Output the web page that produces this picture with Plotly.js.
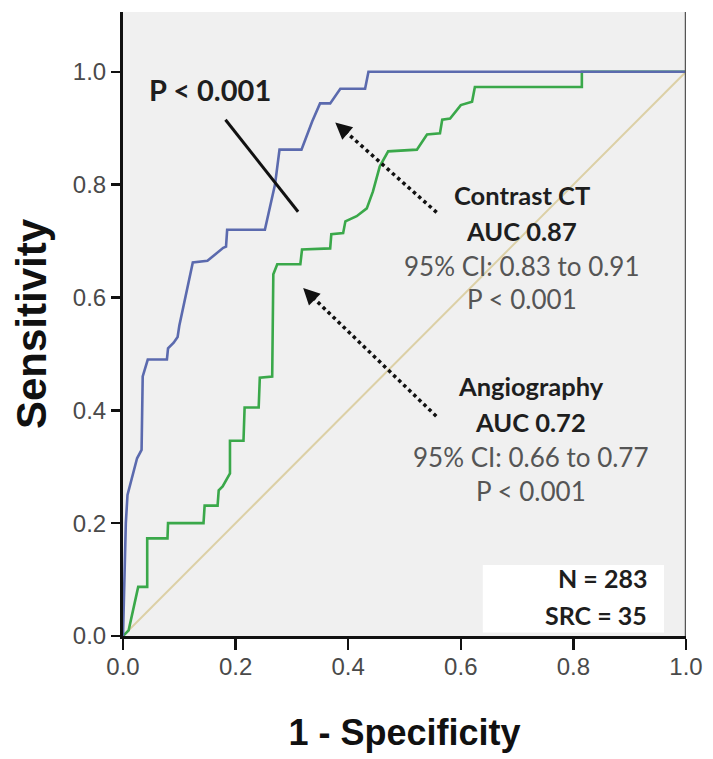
<!DOCTYPE html>
<html>
<head>
<meta charset="utf-8">
<script src="https://cdn.plot.ly/plotly-3.0.1.min.js"></script>
<style>html,body{margin:0;padding:0;background:#fff;}#chart{width:713px;height:759px;}</style>
</head>
<body>
<div id="chart"></div>
<script>
// Contrast CT ROC curve (1 - specificity, sensitivity)
const ctX = [0, 0.002, 0.005, 0.008, 0.013, 0.020, 0.025, 0.033, 0.035, 0.044, 0.078, 0.080, 0.090, 0.097, 0.100, 0.124, 0.150, 0.178, 0.183, 0.185, 0.252, 0.270, 0.278, 0.317, 0.336, 0.350, 0.368, 0.386, 0.430, 0.436, 1.0];
const ctY = [0, 0.100, 0.200, 0.250, 0.270, 0.300, 0.315, 0.330, 0.460, 0.490, 0.490, 0.510, 0.520, 0.530, 0.550, 0.662, 0.665, 0.688, 0.690, 0.720, 0.720, 0.800, 0.862, 0.862, 0.912, 0.944, 0.944, 0.970, 0.970, 1.0, 1.0];
// Angiography ROC curve
const angX = [0, 0.010, 0.027, 0.043, 0.043, 0.079, 0.080, 0.143, 0.145, 0.168, 0.170, 0.177, 0.190, 0.190, 0.214, 0.216, 0.241, 0.243, 0.265, 0.266, 0.267, 0.274, 0.315, 0.318, 0.368, 0.370, 0.391, 0.395, 0.415, 0.433, 0.444, 0.456, 0.471, 0.522, 0.540, 0.563, 0.567, 0.581, 0.600, 0.620, 0.625, 0.815, 0.815, 1.0];
const angY = [0, 0.010, 0.087, 0.087, 0.173, 0.173, 0.200, 0.200, 0.231, 0.231, 0.258, 0.265, 0.288, 0.346, 0.346, 0.405, 0.405, 0.458, 0.460, 0.520, 0.641, 0.659, 0.659, 0.685, 0.687, 0.712, 0.714, 0.735, 0.744, 0.758, 0.788, 0.832, 0.859, 0.862, 0.889, 0.891, 0.915, 0.917, 0.941, 0.947, 0.973, 0.973, 1.0, 1.0];
// Reference line
const refX = [0, 1];
const refY = [0, 1];
const tickVals = [0, 0.2, 0.4, 0.6, 0.8, 1.0];
const tickText = ["0.0", "0.2", "0.4", "0.6", "0.8", "1.0"];
const ctLabel = ["Contrast CT", "AUC 0.87", "95% CI: 0.83 to 0.91", "P < 0.001"];
const angLabel = ["Angiography", "AUC 0.72", "95% CI: 0.66 to 0.77", "P < 0.001"];
const sampleLabel = ["N = 283", "SRC = 35"];
const pLabel = "P < 0.001";

const YTOP = 1.106;
const annFont = "Lato, 'Open Sans', sans-serif";

const traces = [
  {x: refX, y: refY, mode: 'lines', line: {color: '#dcd0a6', width: 2}, hoverinfo: 'skip', showlegend: false},
  {x: angX, y: angY, mode: 'lines', line: {color: '#3aa84a', width: 2.6}, name: 'Angiography', showlegend: false},
  {x: ctX, y: ctY, mode: 'lines', line: {color: '#5b6aae', width: 2.6}, name: 'Contrast CT', showlegend: false}
];

function block(lines, cx, ys) {
  return lines.map((t, i) => ({
    text: t, x: cx, y: ys[i], xref: 'x', yref: 'y', showarrow: false,
    xanchor: 'center', yanchor: 'middle',
    font: {family: annFont, size: i < 2 ? 25.5 : 26, color: i < 2 ? '#1e1e1e' : '#555555', weight: i < 2 ? 'bold' : 'normal'}
  }));
}

const annotations = [].concat(
  block(ctLabel, 0.708, [0.782, 0.718, 0.655, 0.597]),
  block(angLabel, 0.724, [0.443, 0.380, 0.317, 0.257]),
  [
    {text: pLabel, x: 0.155, y: 0.968, xref: 'x', yref: 'y', showarrow: false, xanchor: 'center', yanchor: 'middle',
     font: {family: annFont, size: 29, color: '#1e1e1e', weight: 'bold'}},
    {text: sampleLabel[0], x: 0.935, y: 0.103, xref: 'x', yref: 'y', showarrow: false, xanchor: 'right', yanchor: 'middle',
     font: {family: annFont, size: 25, color: '#1e1e1e', weight: 'bold'}},
    {text: sampleLabel[1], x: 0.935, y: 0.037, xref: 'x', yref: 'y', showarrow: false, xanchor: 'right', yanchor: 'middle',
     font: {family: annFont, size: 25, color: '#1e1e1e', weight: 'bold'}},
    // arrowheads
    {text: '', x: 0.377, y: 0.910, ax: 0.400, ay: 0.890, xref: 'x', yref: 'y', axref: 'x', ayref: 'y',
     showarrow: true, arrowhead: 2, arrowsize: 1.1, arrowwidth: 3, arrowcolor: '#111'},
    {text: '', x: 0.320, y: 0.617, ax: 0.343, ay: 0.594, xref: 'x', yref: 'y', axref: 'x', ayref: 'y',
     showarrow: true, arrowhead: 2, arrowsize: 1.1, arrowwidth: 3, arrowcolor: '#111'}
  ]
);

const shapes = [
  {type: 'rect', xref: 'x', yref: 'y', x0: 0.639, x1: 0.961, y0: 0.006, y1: 0.126, fillcolor: '#ffffff', line: {width: 0}, layer: 'below'},
  {type: 'line', xref: 'x', yref: 'y', x0: 1, x1: 1, y0: 0, y1: YTOP, line: {color: '#555555', width: 2.5}},
  {type: 'line', xref: 'x', yref: 'y', x0: 0.182, y0: 0.915, x1: 0.311, y1: 0.752, line: {color: '#111111', width: 3}},
  {type: 'line', xref: 'x', yref: 'y', x0: 0.385, y0: 0.903, x1: 0.558, y1: 0.750, line: {color: '#111111', width: 3.5, dash: 'dot'}},
  {type: 'line', xref: 'x', yref: 'y', x0: 0.328, y0: 0.609, x1: 0.558, y1: 0.388, line: {color: '#111111', width: 3.5, dash: 'dot'}}
];

const layout = {
  width: 713, height: 759,
  margin: {l: 123, r: 27, t: 12, b: 123},
  paper_bgcolor: '#ffffff', plot_bgcolor: '#f0f0f0',
  showlegend: false,
  xaxis: {
    range: [0, 1], tickvals: tickVals, ticktext: tickText, ticks: 'outside', ticklen: 11, tickwidth: 2.5, tickcolor: '#111',
    showline: true, linecolor: '#111', linewidth: 3, showgrid: false, zeroline: false, ticklabelstandoff: -4,
    tickfont: {family: 'Liberation Sans, Arial, sans-serif', size: 24, color: '#4a4a4a'},
    title: {text: '1 - Specificity', font: {family: 'Liberation Sans, Arial, sans-serif', size: 36, color: '#111', weight: 'bold'}, standoff: 42}
  },
  yaxis: {
    range: [0, YTOP], tickvals: tickVals, ticktext: tickText, ticks: 'outside', ticklen: 9, tickwidth: 2.5, tickcolor: '#111',
    showline: true, linecolor: '#111', linewidth: 3, showgrid: false, zeroline: false,
    tickfont: {family: 'Liberation Sans, Arial, sans-serif', size: 24, color: '#4a4a4a'},
    title: {text: 'Sensitivity', font: {family: 'Liberation Sans, Arial, sans-serif', size: 42, color: '#111', weight: 'bold'}, standoff: 14}
  },
  shapes: shapes,
  annotations: annotations
};

Plotly.newPlot('chart', traces, layout, {displayModeBar: false, staticPlot: true});
</script>
</body>
</html>
